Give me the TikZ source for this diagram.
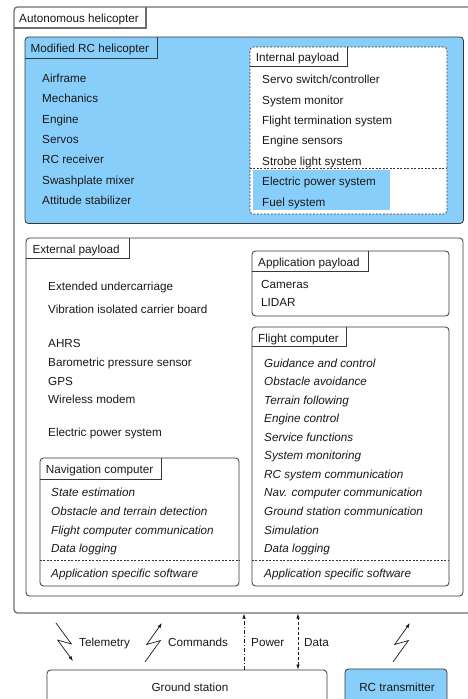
\documentclass[tikz,border=0pt]{standalone}
\usepackage{fontspec}
\setmainfont{Liberation Sans}
\usetikzlibrary{fit,calc,arrows.meta}
\definecolor{skyb}{RGB}{135,206,250}
\definecolor{edge}{RGB}{55,55,55}
\definecolor{outer}{RGB}{110,110,110}
\definecolor{txtc}{RGB}{25,25,25}
\begin{document}
\begin{tikzpicture}[x=1pt,y=-1pt,
  font=\fontsize{11.7}{14}\selectfont,
  box/.style={draw=edge, line width=0.8pt, rounded corners=3.5pt, inner sep=0pt},
  tabline/.style={draw=edge, line width=0.8pt},
  sep/.style={draw=edge, line width=0.7pt, dash pattern=on 2pt off 1.5pt},
  txt/.style={anchor=base west, inner sep=0pt, text=txtc},
  itx/.style={txt, font=\fontsize{11.7}{14}\selectfont\itshape},
  arr/.style={-{Latex[length=5pt,width=3.5pt]}, line width=0.7pt, draw=txtc},
  arrb/.style={{Latex[length=5pt,width=3.5pt]}-{Latex[length=5pt,width=3.5pt]}, line width=0.7pt, draw=txtc}]
\useasboundingbox (0,0) rectangle (468,699);
\clip (0,0) rectangle (468,699);

% Autonomous helicopter
\node[box, draw=outer, line width=1.3pt, fit={(14,7) (476,613)}] (ah) {};
\draw[tabline, draw=outer, line width=1.3pt] (14,28) -| (146,7);
\node[txt] (tah) at (19,22.6) {Autonomous helicopter};

% Modified RC helicopter
\node[box, fill=skyb, fit={(25,37) (463.5,223.5)}] (rc) {};
\draw[tabline] (25,58) -| (157,37);
\node[txt] (trc) at (30.5,52.6) {Modified RC helicopter};
\foreach \t [count=\i from 0] in {Airframe,Mechanics,Engine,Servos,RC receiver,Swashplate mixer,Attitude stabilizer}
  \node[txt] (rci\i) at (42,82.6+\i*20.33) {\t};

% Internal payload
\node[box, fill=white, sep, fit={(250,47) (447,214)}] (ip) {};
\fill[skyb] (253,170) rectangle (390,210);
\draw[sep] (ip.west |- 0,168) -- (ip.east |- 0,168);
\draw[tabline] (250,66) -| (347,47);
\node[txt] (tip) at (255.7,61) {Internal payload};
\foreach \t [count=\i from 0] in {Servo switch/controller,System monitor,Flight termination system,Engine sensors,Strobe light system,Electric power system,Fuel system}
  \node[txt] (ipi\i) at (262,83.6+\i*20.45) {\t};

% External payload
\node[box, fit={(26,238) (463,596)}] (ep) {};
\draw[tabline] (26,258) -| (129,238);
\node[txt] (tep) at (32.3,253.6) {External payload};
\node[txt] (ep1) at (48,290.3) {Extended undercarriage};
\node[txt] (ep2) at (48,313) {Vibration isolated carrier board};
\node[txt] (ep3) at (48,347.6) {AHRS};
\node[txt] (ep4) at (48,366.3) {Barometric pressure sensor};
\node[txt] (ep5) at (48,385) {GPS};
\node[txt] (ep6) at (48,403.7) {Wireless modem};
\node[txt] (ep7) at (48,436.3) {Electric power system};

% Application payload
\node[box, fit={(252,251) (449,316)}] (ap) {};
\draw[tabline] (252,271) -| (368,251);
\node[txt] (tap) at (258,266.6) {Application payload};
\node[txt] (ap1) at (261,288.6) {Cameras};
\node[txt] (ap2) at (261,306.6) {LIDAR};

% Flight computer
\node[box, fit={(252,327) (449,586)}] (fc) {};
\draw[tabline] (252,346) -| (346,327);
\node[txt] (tfc) at (258,342.6) {Flight computer};
\foreach \t [count=\i from 0] in {Guidance and control,Obstacle avoidance,Terrain following,Engine control,Service functions,System monitoring,RC system communication,Nav. computer communication,Ground station communication,Simulation,Data logging}
  \node[itx] (fci\i) at (264,367+\i*18.56) {\t};
\draw[sep] (fc.west |- 0,560) -- (fc.east |- 0,560);
\node[itx] (fcs) at (264,577.3) {Application specific software};

% Navigation computer
\node[box, fit={(40,458) (239,586)}] (nc) {};
\draw[tabline] (40,479) -| (161,458);
\node[txt] (tnc) at (45.7,473.3) {Navigation computer};
\foreach \t [count=\i from 0] in {State estimation,Obstacle and terrain detection,Flight computer communication,Data logging}
  \node[itx] (nci\i) at (51,496.9+\i*18.56) {\t};
\draw[sep] (nc.west |- 0,560) -- (nc.east |- 0,560);
\node[itx] (ncs) at (51,577.3) {Application specific software};

% Ground side
\node[box, text=txtc, fit={(47,670) (327,705)}] (gs) {};
\node[txt, anchor=base] (tgs) at (190,691.3) {Ground station};
\node[box, fill=skyb, text=txtc, fit={(345,669) (447,705)}] (rct) {};
\node[txt, anchor=base] (trct) at (397,691.3) {RC transmitter};

% Power and data
\coordinate (pw) at (244,0);
\coordinate (dt) at (298,0);
\draw[arr, dash pattern=on 4pt off 2pt on 1pt off 2pt] (gs.north -| pw) -- (ah.south -| pw);
\draw[arrb, dash pattern=on 3pt off 2pt] (gs.north -| dt) -- (ah.south -| dt);
\node[txt] (lpw) at (251,646.3) {Power};
\node[txt] (ldt) at (304,646.3) {Data};

% Radio links
\coordinate (t1) at (56,623);
\coordinate (t2) at (73,661);
\draw[arr] (t1) -- ($(t1)!0.55!(t2)+(6,0)$) -- ($(t1)!0.45!(t2)+(-6,0)$) -- (t2);
\node[txt] (ltm) at (79,646.3) {Telemetry};
\coordinate (c1) at (145,662);
\coordinate (c2) at (162,623);
\draw[arr] (c1) -- ($(c1)!0.55!(c2)+(6,0)$) -- ($(c1)!0.45!(c2)+(-6,0)$) -- (c2);
\node[txt] (lcm) at (168,646.3) {Commands};
\coordinate (r1) at (393,662);
\coordinate (r2) at (410,623);
\draw[arr] (r1) -- ($(r1)!0.55!(r2)+(6,0)$) -- ($(r1)!0.45!(r2)+(-6,0)$) -- (r2);
\end{tikzpicture}
\end{document}
